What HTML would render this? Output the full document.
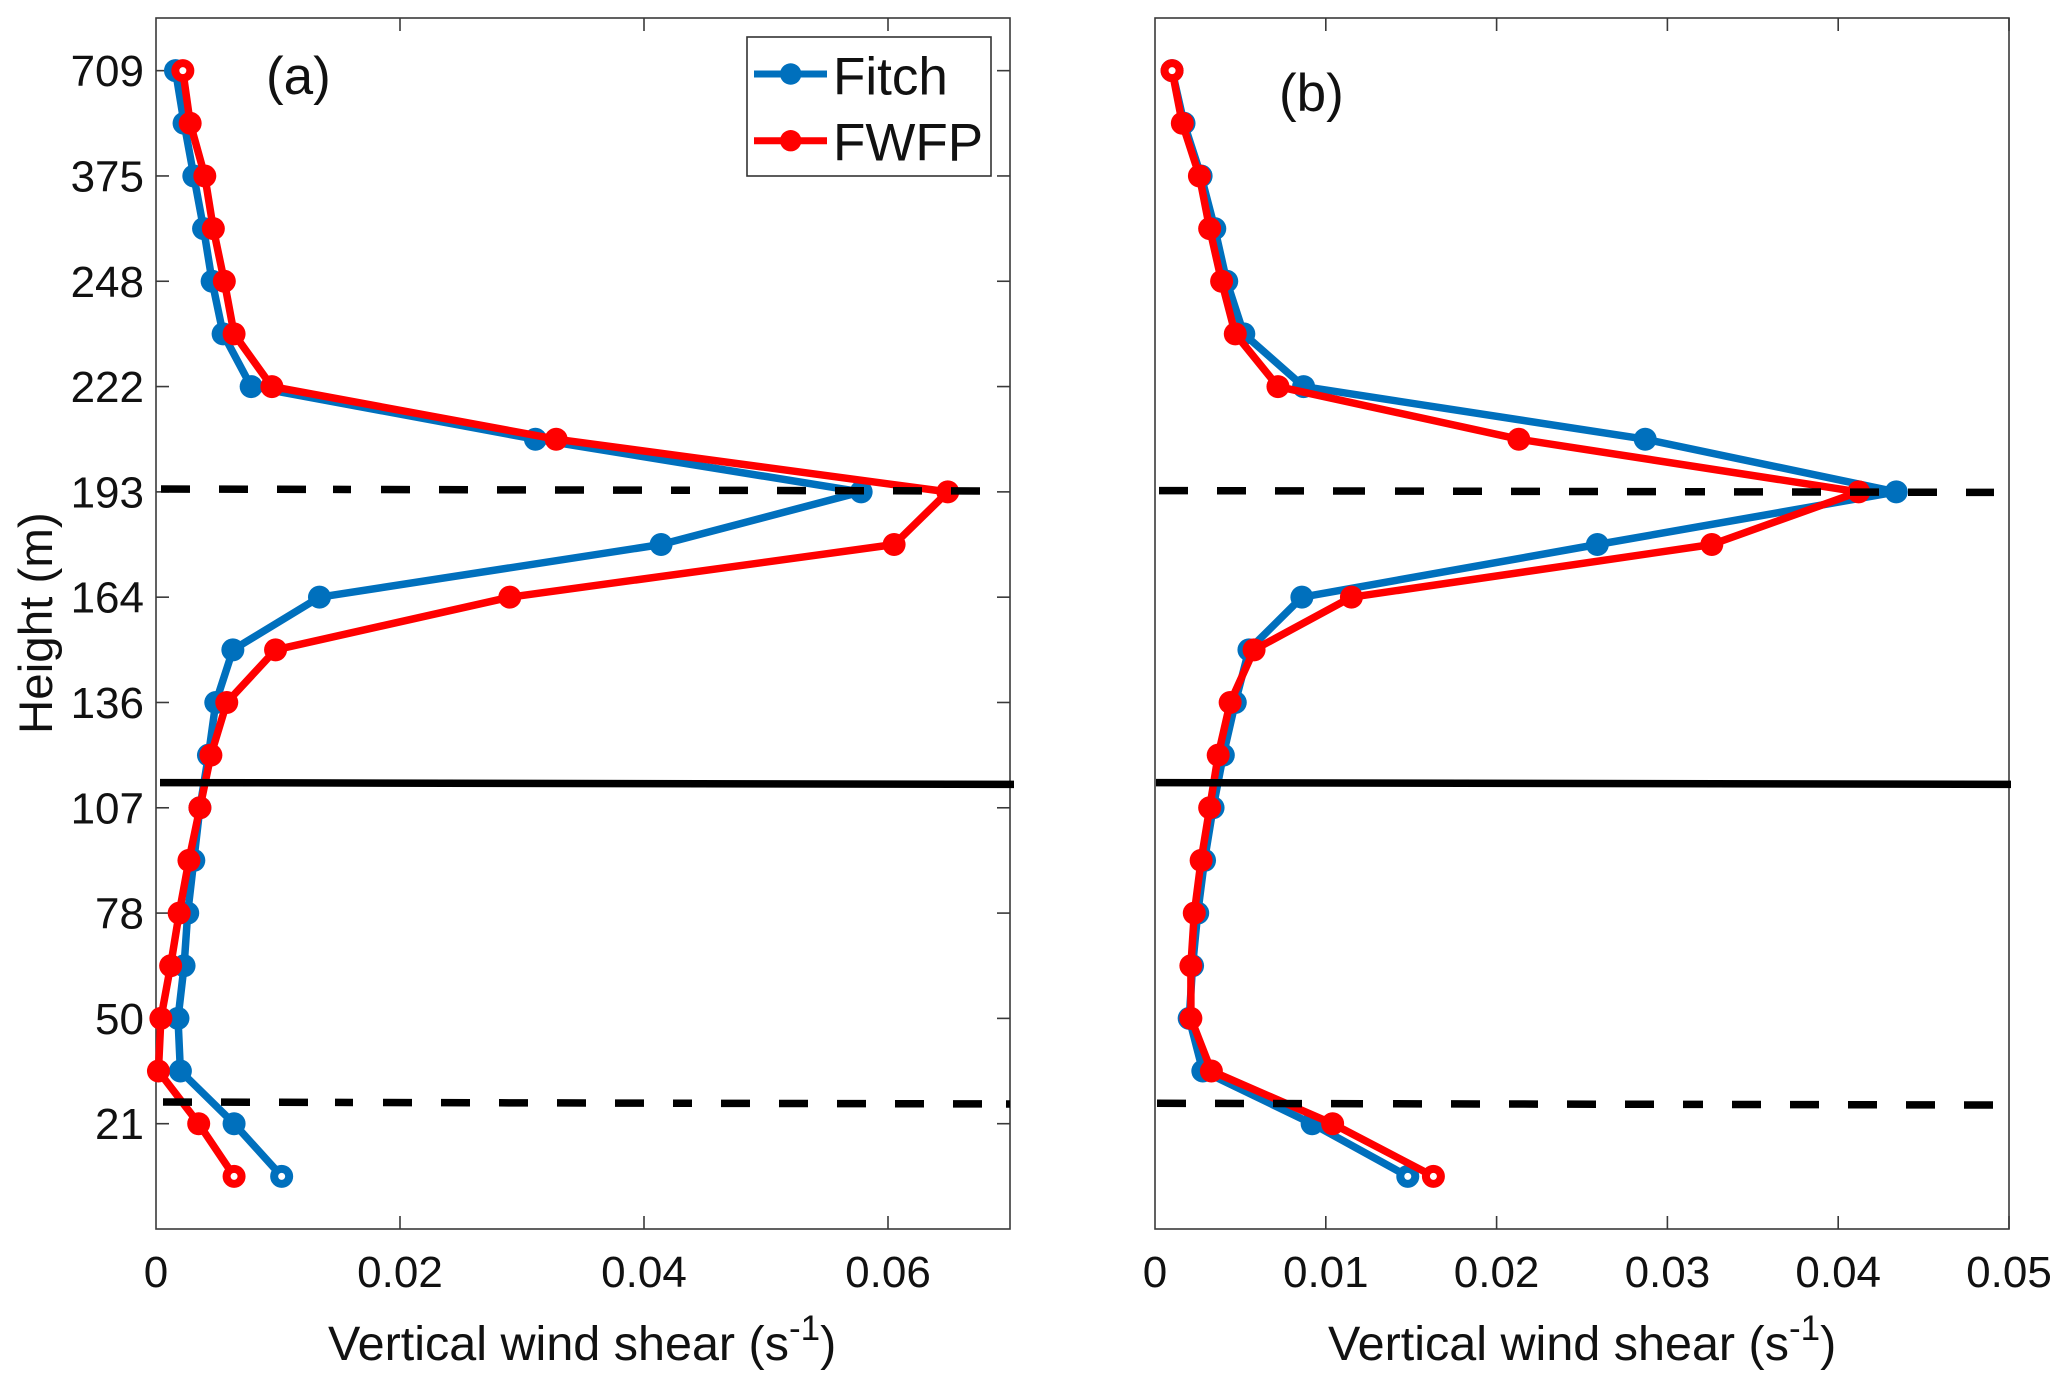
<!DOCTYPE html>
<html lang="en">
<head>
<meta charset="utf-8">
<title>Vertical wind shear profiles</title>
<style>
html,body{margin:0;padding:0;background:#fff;}
svg{display:block;font-family:"Liberation Sans",Arial,sans-serif;fill:#111;}
</style>
</head>
<body>
<svg id="chart" xmlns="http://www.w3.org/2000/svg" width="2067" height="1389" viewBox="0 0 2067 1389">
  <rect x="0" y="0" width="2067" height="1389" fill="#fff"/>
  <g id="panel-a"></g>
  <g id="panel-b"></g>

  <text transform="translate(52,734) rotate(-90)" font-size="47.5">Height (m)</text>
  <text x="328" y="1360" font-size="48.5">Vertical wind shear (s<tspan dy="-20" font-size="35">-1</tspan><tspan dy="20">)</tspan></text>
  <text x="1328" y="1360" font-size="48.5">Vertical wind shear (s<tspan dy="-20" font-size="35">-1</tspan><tspan dy="20">)</tspan></text>
  <text x="266" y="94" font-size="53">(a)</text>
  <text x="1279" y="111" font-size="53">(b)</text>

  <g>
    <rect x="747" y="37" width="244" height="139" fill="#fff" stroke="#333" stroke-width="1.6"/>
    <line x1="754" y1="74" x2="827" y2="74" stroke="#0070BD" stroke-width="7"/>
    <circle cx="790.7" cy="74" r="10.7" fill="#0070BD"/>
    <text x="833" y="94.7" font-size="53">Fitch</text>
    <line x1="754" y1="140.7" x2="827" y2="140.7" stroke="#FF0000" stroke-width="7"/>
    <circle cx="790.7" cy="140.7" r="10.7" fill="#FF0000"/>
    <text x="833" y="160.7" font-size="53">FWFP</text>
  </g>
</svg>
<script>
// Model levels, top to bottom, on the index-spaced height axis
const levels = [22,21,20,19,18,17,16,15,14,13,12,11,10,9,8,7,6,5,4,3,2,1];
const heightTickLevels = [22,20,18,16,14,12,10,8,6,4,2];
const heightTickLabels = ["709","375","248","222","193","164","136","107","78","50","21"];

const shearTicksA = [0,0.02,0.04,0.06];
const shearTickLabelsA = ["0","0.02","0.04","0.06"];
const shearTicksB = [0,0.01,0.02,0.03,0.04,0.05];
const shearTickLabelsB = ["0","0.01","0.02","0.03","0.04","0.05"];

const fitchA = [0.0016,0.0023,0.0031,0.0039,0.0046,0.0055,0.0078,0.0311,0.0578,0.0414,0.0134,0.0063,0.0049,0.0043,0.0036,0.0031,0.0026,0.0023,0.0018,0.0020,0.0064,0.0103];
const fwfpA  = [0.0022,0.0028,0.0040,0.0047,0.0056,0.0064,0.0095,0.0328,0.0649,0.0605,0.0290,0.0098,0.0058,0.0045,0.0036,0.0027,0.0019,0.0012,0.0004,0.0002,0.0035,0.0064];
const fitchB = [0.0010,0.0017,0.0027,0.0035,0.0042,0.0052,0.0087,0.0287,0.0434,0.0259,0.0086,0.0055,0.0047,0.0040,0.0034,0.0029,0.0025,0.0022,0.0020,0.0028,0.0092,0.0148];
const fwfpB  = [0.0010,0.0016,0.0026,0.0032,0.0039,0.0047,0.0072,0.0213,0.0412,0.0326,0.0115,0.0058,0.0044,0.0037,0.0032,0.0027,0.0023,0.0021,0.0021,0.0033,0.0104,0.0163];

const BLUE = '#0070BD', RED = '#FF0000', AXIS = '#3a3a3a', INK = '#000';
const NS = 'http://www.w3.org/2000/svg';
const TOP = 18, BOTTOM = 1229, LEVEL_MAX = 23, TICK = 13;
const DASHES_A = '29 29 29 29 29 27 18 30 29 29 29 29 29 29 29 29 29 29 19 29 29 29 29 29 29 29 29 29 29 24 29 29';
const DASHES_B = '29 29 29 29 29 29 32 30 29 29 29 29 29 29 29 29 29 29 20 29 29 29 29 29 29 29 29 29 29 29 29 29';

function make(tag, attrs, parent) {
  const e = document.createElementNS(NS, tag);
  for (const k in attrs) e.setAttribute(k, attrs[k]);
  parent.appendChild(e);
  return e;
}
function yScale(level) { return BOTTOM - (level / LEVEL_MAX) * (BOTTOM - TOP); }

function drawSeries(g, values, color, xScale, key) {
  const pts = values.map((v, i) => xScale(v).toFixed(1) + ',' + yScale(levels[i]).toFixed(1)).join(' ');
  const line = make('polyline', {points: pts, fill: 'none', stroke: color, 'stroke-width': 7.5, 'stroke-linejoin': 'round'}, g);
  
  
  values.forEach((v, i) => {
    const isEnd = i === 0 || i === values.length - 1;
    const dot = make('circle', {
      cx: xScale(v), cy: yScale(levels[i]),
      r: isEnd ? 7.5 : 11.5,
      fill: isEnd ? '#fff' : color,
      stroke: isEnd ? color : 'none',
      'stroke-width': isEnd ? 8 : 0
    }, g);
    
    
  });
}

function drawPanel(cfg) {
  const g = document.getElementById(cfg.id);
  const xScale = v => cfg.left + (v / cfg.xMax) * (cfg.right - cfg.left);

  const frame = make('rect', {x: cfg.left, y: TOP, width: cfg.right - cfg.left, height: BOTTOM - TOP, fill: 'none', stroke: AXIS, 'stroke-width': 1.6}, g);
  
  

  cfg.xTicks.forEach((t, i) => {
    const x = xScale(t);
    if (i > 0) {
      const tb = make('line', {x1: x, x2: x, y1: BOTTOM, y2: BOTTOM - TICK, stroke: AXIS, 'stroke-width': 1.6}, g);
      
      
      const tt = make('line', {x1: x, x2: x, y1: TOP, y2: TOP + TICK, stroke: AXIS, 'stroke-width': 1.6}, g);
      
      
    }
    const lab = make('text', {x: x, y: 1287, 'font-size': 44, 'text-anchor': 'middle'}, g);
    lab.textContent = cfg.xLabels[i];
    
    
  });

  if (cfg.yAxis) {
    heightTickLevels.forEach((lv, i) => {
      const y = yScale(lv);
      const tl = make('line', {x1: cfg.left, x2: cfg.left + TICK, y1: y, y2: y, stroke: AXIS, 'stroke-width': 1.6}, g);
      
      
      const tr = make('line', {x1: cfg.right, x2: cfg.right - TICK, y1: y, y2: y, stroke: AXIS, 'stroke-width': 1.6}, g);
      
      
      const lab = make('text', {x: 144, y: y + 15.5, 'font-size': 44, 'text-anchor': 'end'}, g);
      lab.textContent = heightTickLabels[i];
      
      
    });
  }

  drawSeries(g, cfg.fitch, BLUE, xScale, 'fitch');
  drawSeries(g, cfg.fwfp, RED, xScale, 'fwfp');

  const upper = make('line', {x1: cfg.upper[0], y1: cfg.upper[1], x2: cfg.upper[2], y2: cfg.upper[3], stroke: INK, 'stroke-width': 7.5, 'stroke-dasharray': cfg.dashes}, g);
  
  
  const lower = make('line', {x1: cfg.lower[0], y1: cfg.lower[1], x2: cfg.lower[2], y2: cfg.lower[3], stroke: INK, 'stroke-width': 7.5, 'stroke-dasharray': cfg.dashes}, g);
  
  
  const hub = make('line', {x1: cfg.hub[0], y1: cfg.hub[1], x2: cfg.hub[2], y2: cfg.hub[3], stroke: INK, 'stroke-width': 7.5}, g);
  
  
}

drawPanel({
  id: 'panel-a', left: 156, right: 1010, xMax: 0.07, yAxis: true, dashes: DASHES_A,
  xTicks: shearTicksA, xLabels: shearTickLabelsA, fitch: fitchA, fwfp: fwfpA,
  upper: [161, 489, 980, 491], lower: [163, 1102, 1010, 1104], hub: [160, 782.6, 1014, 784.4]
});
drawPanel({
  id: 'panel-b', left: 1155, right: 2009, xMax: 0.05, yAxis: false, dashes: DASHES_B,
  xTicks: shearTicksB, xLabels: shearTickLabelsB, fitch: fitchB, fwfp: fwfpB,
  upper: [1159, 490.6, 1994, 492.4], lower: [1157, 1103.3, 1994, 1105], hub: [1156, 782.6, 2011, 784.4]
});
</script>
</body>
</html>
